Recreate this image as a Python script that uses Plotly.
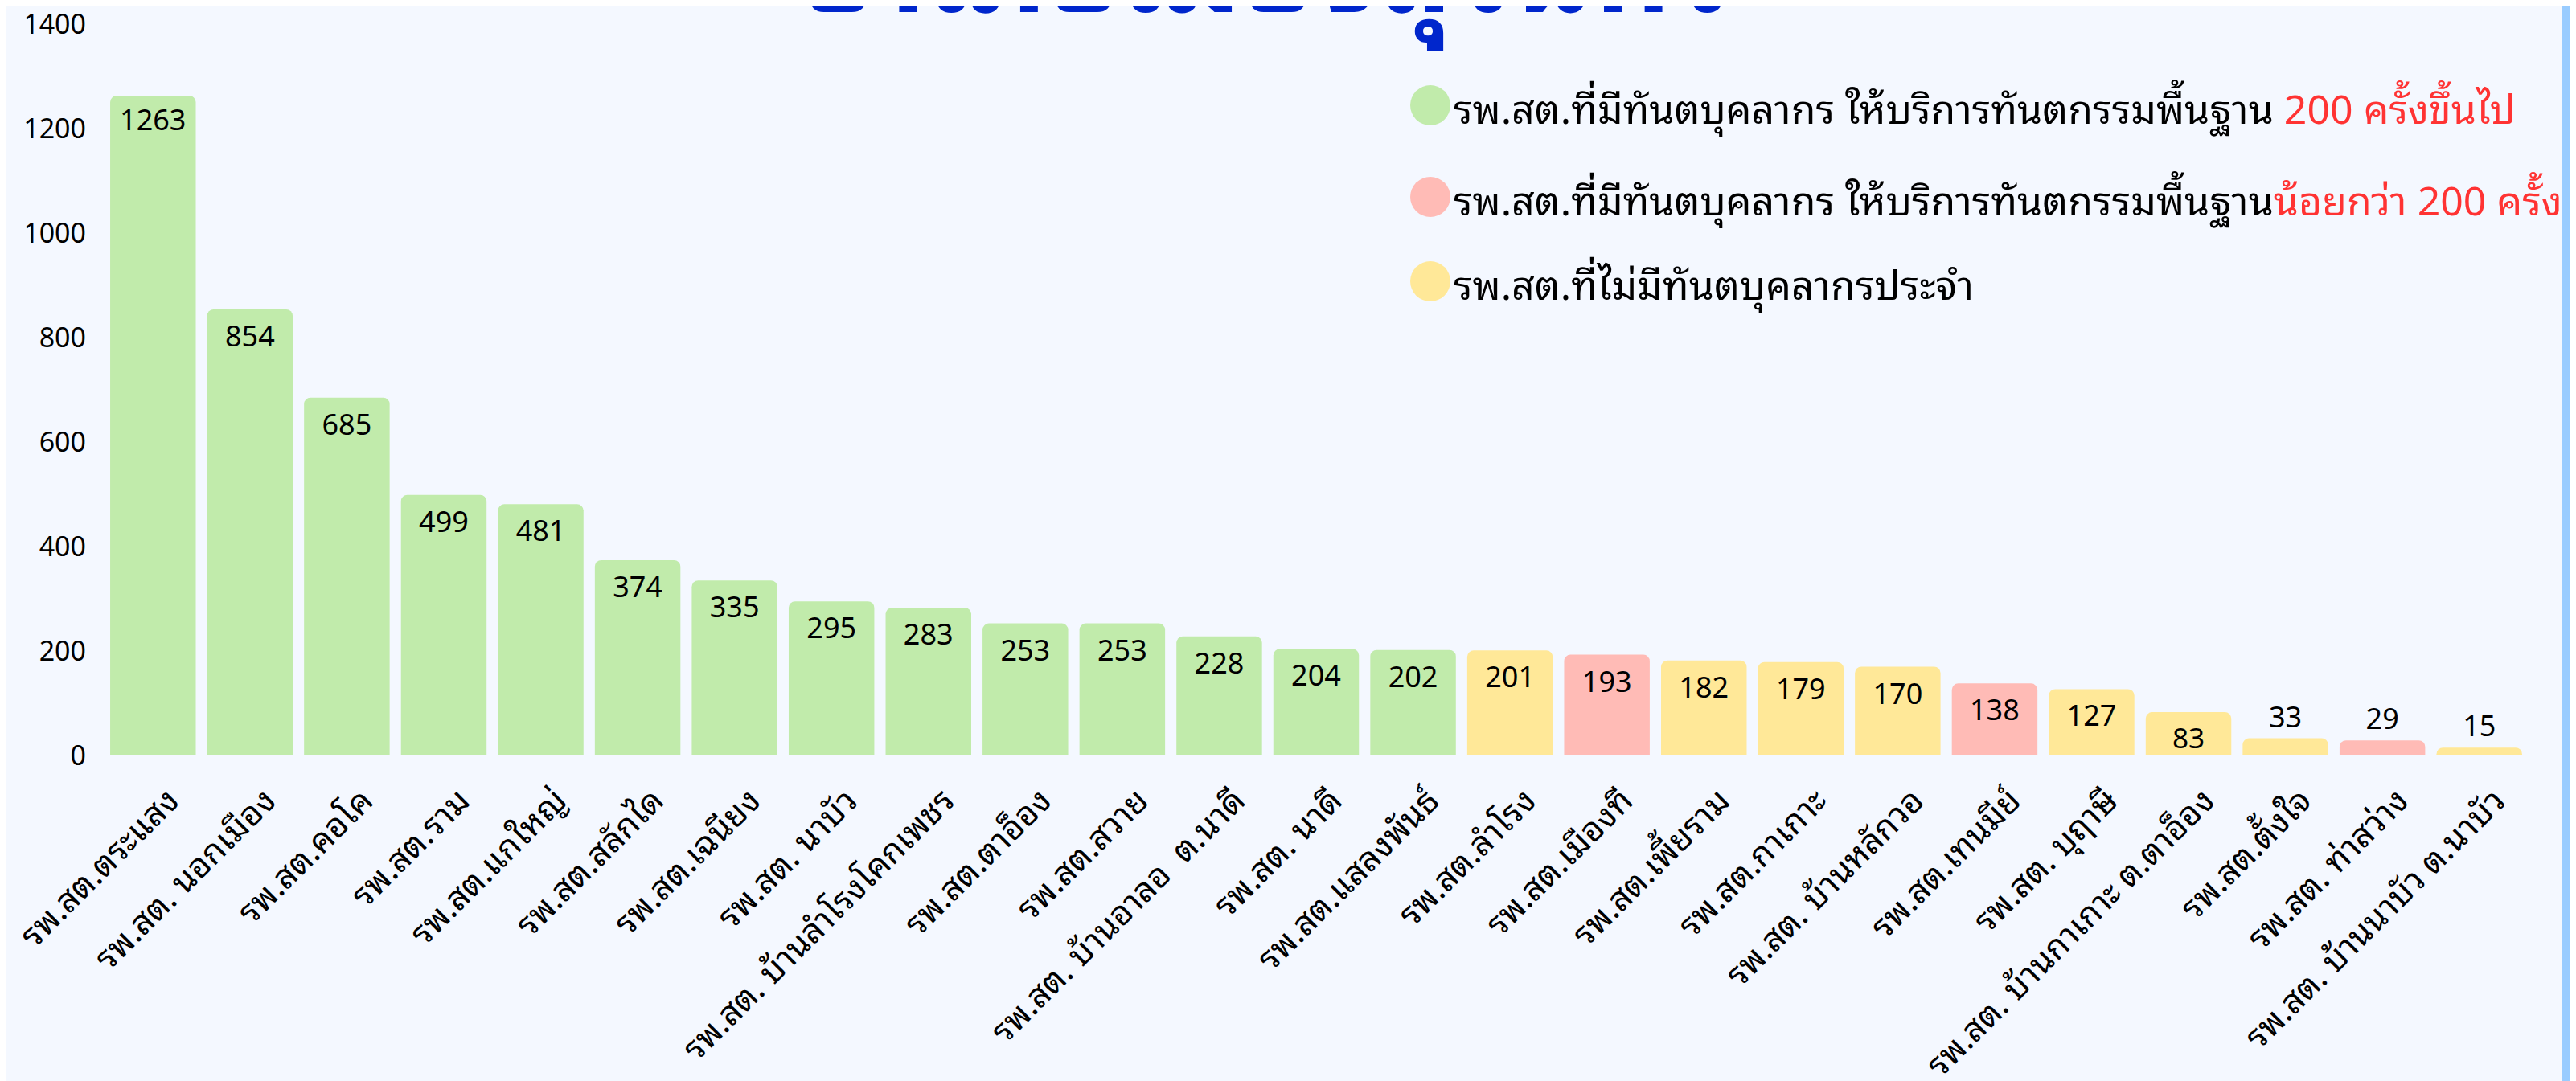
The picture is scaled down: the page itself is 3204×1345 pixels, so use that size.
import plotly.graph_objects as go

# ข้อมูล
names = [
    "รพ.สต.ตระแสง", "รพ.สต. นอกเมือง", "รพ.สต.คอโค", "รพ.สต.ราม", "รพ.สต.แกใหญ่",
    "รพ.สต.สลักได", "รพ.สต.เฉนียง", "รพ.สต. นาบัว", "รพ.สต. บ้านลำโรงโคกเพชร",
    "รพ.สต.ตาอ็อง", "รพ.สต.สวาย", "รพ.สต. บ้านอาลอ  ต.นาดี", "รพ.สต. นาดี",
    "รพ.สต.แสลงพันธ์", "รพ.สต.ลำโรง", "รพ.สต.เมืองที", "รพ.สต.เพี้ยราม",
    "รพ.สต.กาเกาะ", "รพ.สต. บ้านหลักวอ", "รพ.สต.เทนมีย์", "รพ.สต. บุฤาษี",
    "รพ.สต. บ้านกาเกาะ ต.ตาอ็อง", "รพ.สต.ตั้งใจ", "รพ.สต. ท่าสว่าง", "รพ.สต. บ้านนาบัว ต.นาบัว",
]
visits = [1263, 854, 685, 499, 481, 374, 335, 295, 283, 253, 253, 228, 204, 202,
          201, 193, 182, 179, 170, 138, 127, 83, 33, 29, 15]
# 0 = มีทันตบุคลากร >= 200, 1 = มีทันตบุคลากร < 200, 2 = ไม่มีทันตบุคลากรประจำ
group = [0, 0, 0, 0, 0, 0, 0, 0, 0, 0, 0, 0, 0, 0,
         2, 1, 2, 2, 2, 1, 2, 2, 2, 1, 2]

palette = ["#c1ebab", "#ffbbb6", "#ffe898"]
legend_text = [
    "รพ.สต.ที่มีทันตบุคลากร ให้บริการทันตกรรมพื้นฐาน <span style='color:#ff3333'>200 ครั้งขึ้นไป</span>",
    "รพ.สต.ที่มีทันตบุคลากร ให้บริการทันตกรรมพื้นฐาน<span style='color:#ff3333'>น้อยกว่า 200 ครั้ง</span>",
    "รพ.สต.ที่ไม่มีทันตบุคลากรประจำ",
]
title_text = "อำเภอเมืองสุรินทร์"

W, H = 3204, 1345
ml, mr, mt, mb = 122, 68, 22, 413
pw, ph = W - ml - mr, H - mt - mb

thai_font = "Noto Sans Thai Looped, Loma, Noto Sans, sans-serif"
num_font = "Noto Sans, sans-serif"


def px_x(x):
    return (x - ml) / pw


def px_y(y):
    return (mt + ph - y) / ph


fig = go.Figure()
fig.add_trace(go.Bar(
    x=names, y=visits,
    marker=dict(color=[palette[g] for g in group], line=dict(width=0)),
    text=visits, textposition="auto", textangle=0,
    textfont=dict(size=36, color="black", family=num_font),
    cliponaxis=False, showlegend=False,
))

# legend ทำเอง (วงกลม + ข้อความ)
legend_y = [123, 237, 342]
for i, t in enumerate(legend_text):
    fig.add_shape(type="circle", xref="paper", yref="paper",
                  xsizemode="pixel", ysizemode="pixel",
                  xanchor=px_x(1771), yanchor=px_y(legend_y[i]), x0=-25, x1=25, y0=-25, y1=25,
                  fillcolor=palette[i], line=dict(width=0))
    fig.add_annotation(text=t, xref="paper", yref="paper",
                       x=px_x(1798), y=px_y(legend_y[i]), xanchor="left", yanchor="middle",
                       showarrow=False, font=dict(size=50, color="black", family=thai_font))

# หัวเรื่อง (ล้นขอบบน)
fig.add_annotation(text="<b>" + title_text + "</b>", xref="paper", yref="paper",
                   x=px_x(1567), y=px_y(-60), xanchor="center", yanchor="middle",
                   showarrow=False, font=dict(size=148, color="#0026cc", family=thai_font))

# แถบขอบขวา
fig.add_shape(type="rect", xref="paper", yref="paper",
              x0=px_x(3178), x1=px_x(3230), y0=-1, y1=2,
              fillcolor="#99ccff", line=dict(width=0))

fig.update_layout(
    width=W, height=H,
    margin=dict(l=ml, r=mr, t=mt, b=mb, autoexpand=False),
    paper_bgcolor="#f4f8ff", plot_bgcolor="#f4f8ff",
    bargap=0.117, barcornerradius=8,
    font=dict(family=thai_font, color="black"),
)
fig.update_xaxes(tickangle=-45, tickfont=dict(size=42, family=thai_font), automargin=False,
                 showgrid=False, zeroline=False, showline=False,
                 ticklabelstandoff=22, ticklabelshift=20)
fig.update_yaxes(range=[0, 1400], dtick=200, tickfont=dict(size=34, family=num_font), automargin=False,
                 ticklabeloverflow="allow",
                 showgrid=False, zeroline=False, showline=False, ticklabelstandoff=22)

fig.write_html("out.html")
